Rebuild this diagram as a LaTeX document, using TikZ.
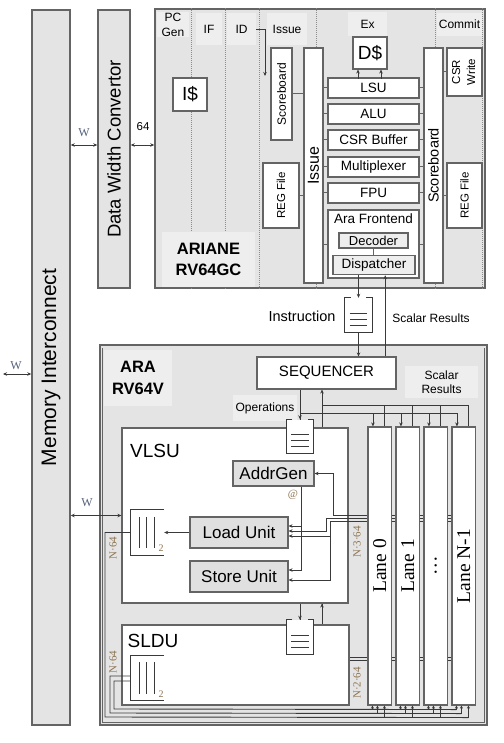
\documentclass[tikz,border=0pt]{standalone}
\usepackage{fontspec}
\usepackage{graphicx}
\setmainfont{Liberation Sans}
\newfontfamily\serifrm{Liberation Serif}
\usetikzlibrary{arrows.meta, calc, positioning}

\definecolor{linegray}{HTML}{646464}
\definecolor{panelgray}{HTML}{E4E4E4}
\definecolor{patchgray}{HTML}{EEEEEE}
\definecolor{unitgray}{HTML}{E0E0E0}
\definecolor{wiregray}{HTML}{3A3A3A}
\definecolor{dotgray}{HTML}{8C8C8C}
\definecolor{wblue}{HTML}{56627C}
\definecolor{ntan}{HTML}{8E7452}

\newcommand{\fsz}[2]{\fontsize{#1}{#2}\selectfont}
\newcommand{\vtext}[1]{\rotatebox{90}{#1}}

\pgfdeclarelayer{back}
\pgfdeclarelayer{wires}
\pgfsetlayers{back,wires,main}

\tikzset{
  wh/.style 2 args={minimum width=#1pt, minimum height=#2pt},
  panel/.style={draw=linegray, fill=panelgray, line width=1.4pt, inner sep=0pt},
  unit/.style={draw=linegray, fill=white, line width=1.1pt, inner sep=0pt, font=\fsz{13.5}{15}},
  gunit/.style={unit, fill=unitgray, font=\fsz{17}{19}},
  tag/.style={fill=patchgray, inner sep=0pt, align=center, font=\fsz{12}{15}},
  stage line/.style={draw=dotgray, densely dotted, line width=1pt},
  conn/.style={draw=linegray, line width=1pt},
  bus/.style={draw=wiregray, line width=0.9pt, >={Stealth[length=4pt,width=3.5pt]}},
  lanetick/.style={bus, >={Stealth[length=3pt,width=3pt]}},
  wlabel/.style={font=\serifrm\fsz{12}{14}, text=wblue, inner sep=0pt},
  nlabel/.style={font=\serifrm\fsz{11}{13}, text=ntan, inner sep=0pt},
  lane/.style={draw=linegray, fill=white, line width=1.1pt, inner sep=0pt, wh={23.5}{278}, font=\serifrm\fsz{19.5}{21}},
  fifobox/.style={fill=white, inner sep=0pt, wh={27}{34}},
  bufbox/.style={fill=white, inner sep=0pt, wh={33}{45}},
}

\begin{document}
\begin{tikzpicture}[x=1pt, y=-1pt]
  \useasboundingbox (0,0) rectangle (503,743);

  % Containers
  \begin{pgfonlayer}{back}
    \node[panel, wh={330}{279}] (ariane) at (320,148.5) {};
    \node[panel, wh={387}{380}] (ara) at (293.5,535) {};
    \draw[conn] ($(ara.north west)+(3.5,3.5)$) -- ($(ara.south west)+(3.5,-3.5)$)
      -- ($(ara.south east)+(-3.5,-3.5)$) -- ($(ara.north east)+(-3.5,3.5)$);
    \foreach \x in {191,225,259,316,435,482}
      \draw[stage line] (ariane.north -| \x,0) -- (ariane.south -| \x,0);
  \end{pgfonlayer}

  % Memory side
  \node[panel, wh={38}{715}, font=\fsz{21}{23}] (mem) at (51,367.5) {\vtext{Memory Interconnect}};
  \node[panel, wh={32}{278}, font=\fsz{18.5}{20}] (dwc) at (114,149) {\vtext{Data Width Convertor}};
  \coordinate (memin) at (3,374);

  % Ariane stages
  \node[tag, wh={32}{25}] (pcgen) at (173,24.5) {PC\\Gen};
  \node[tag, wh={26}{32}] (ifl) at (209,29) {IF};
  \node[tag, wh={29}{32}] (idl) at (241.5,29) {ID};
  \node[tag, wh={40}{32}] (issl) at (287,29) {Issue};
  \node[tag, wh={39}{24}] (exl) at (367.5,24.5) {Ex};
  \node[tag, wh={45}{23}] (comml) at (459.5,24.5) {Commit};
  \node[tag, wh={93}{55}, font=\bfseries\fsz{16.5}{21}] (arianel) at (208.5,259.5) {ARIANE\\RV64GC};
  \coordinate (idtip) at (265,76);

  % Ariane units
  \node[unit, wh={34}{33}, font=\fsz{19}{21}] (icache) at (190,94.5) {I\$};
  \node[unit, wh={21}{92}, font=\fsz{12}{14}] (sbi) at (281.5,94) {\vtext{Scoreboard}};
  \node[unit, wh={36}{65}, font=\fsz{11.5}{13}] (rfi) at (281,195.5) {\vtext{REG File}};
  \node[unit, wh={19}{235}, font=\fsz{16}{18}] (iss) at (313.5,165.5) {\vtext{Issue}};
  \node[unit, wh={34}{32}, font=\fsz{19}{21}] (dcache) at (370,53) {D\$};
  \foreach \n/\lbl/\y in {lsu/LSU/88, alu/ALU/114, csrb/CSR Buffer/140, mux/Multiplexer/167, fpu/FPU/193}
    \node[unit, wh={91}{20}] (\n) at (373.5,\y) {\lbl};
  \node[unit, wh={91}{68}, label={[name=afel, anchor=north, inner sep=0pt, yshift=-4pt, font=\fsz{13.5}{15}]north:Ara Frontend}] (afe) at (373.5,244) {};
  \node[unit, fill=patchgray, line width=1.5pt, wh={69}{15}, font=\fsz{13}{15}] (dec) at (373.5,240.5) {Decoder};
  \node[unit, fill=patchgray, line width=1.5pt, wh={82}{19}, font=\fsz{13.5}{15}] (disp) at (374,265) {Dispatcher};
  \node[unit, wh={19}{235}, font=\fsz{14.5}{16}] (sbc) at (433.5,165.5) {\vtext{Scoreboard}};
  \node[unit, wh={35}{48}, font=\fsz{11.5}{15}] (csrw) at (464.5,72) {\vtext{\begin{tabular}{@{}c@{}}CSR\\Write\end{tabular}}};
  \node[unit, wh={35}{65}, font=\fsz{11.5}{13}] (rfc) at (464.5,195.5) {\vtext{REG File}};

  % Ariane wiring
  \draw[conn] (sbi.east) -- (sbi.east -| iss.west);
  \draw[conn] (rfi.east) -- (rfi.east -| iss.west);
  \foreach \n in {lsu,alu,csrb,mux,fpu,afe} {
    \draw[conn] (iss.east |- \n.west) -- (\n.west);
    \draw[conn] (\n.east) -- (\n.east -| sbc.west);
  }
  \draw[conn] (sbc.east |- csrw.west) -- (csrw.west);
  \draw[conn] (sbc.east |- rfc.west) -- (rfc.west);
  \draw[conn] (dec.south) -- (dec.south |- disp.north);
  \draw[bus,->] (idl.east) -| (idtip);
  \foreach \dx in {-12,11}
    \draw[bus,->] ($(dcache.south)+(\dx,9)$) -- ++(0,-9);

  % Ara
  \node[tag, wh={68}{56}, font=\bfseries\fsz{16.5}{22}] (aral) at (138,377.5) {ARA\\RV64V};
  \node[unit, wh={139}{32}, font=\fsz{15}{17}] (seq) at (326.5,373) {SEQUENCER};
  \node[tag, wh={73}{32}, font=\fsz{12}{14}] (resl) at (441.5,382) {Scalar\\Results};
  \node[tag, wh={64}{26}] (opsl) at (265,408) {Operations};
  \node[fifobox] (ififo) at (358.5,315) {};
  \node[font=\fsz{14.5}{16}, inner sep=0pt] (instl) at (302,316) {Instruction};
  \node[font=\fsz{12}{14}, inner sep=0pt] (sresl) at (431,318) {Scalar Results};
  \coordinate (opsj) at (300,413);
  \coordinate (resj) at (322,405);

  % VLSU
  \node[unit, wh={226}{175}] (vlsu) at (235,515.5) {};
  \node[font=\fsz{19}{21}, inner sep=0pt] (vlsul) at (155,451) {VLSU};
  \node[fifobox] (vfifo) at (300,436.5) {};
  \node[gunit, wh={81}{25}] (agen) at (273.5,473.5) {AddrGen};
  \node[nlabel] (addr) at (293,495) {@};
  \node[gunit, wh={98}{31}] (ldu) at (239,532.5) {Load Unit};
  \node[gunit, wh={98}{31}] (stu) at (239,576.5) {Store Unit};
  \node[bufbox] (vbuf) at (147.5,532.5) {};

  % SLDU
  \node[unit, wh={227}{80}] (sldu) at (235.5,665) {};
  \node[font=\fsz{19}{21}, inner sep=0pt] (sldul) at (153,641) {SLDU};
  \node[fifobox] (sfifo) at (300,637) {};
  \node[bufbox] (sbuf) at (147.5,678) {};

  % Lanes
  \foreach \i/\lbl in {0/Lane 0, 1/Lane 1, 2/\dots, 3/Lane N-1}
    \node[lane] (lane\i) at ({379.75+28*\i},566) {\vtext{\lbl}};

  % Queues
  \foreach \ff in {ififo,vfifo,sfifo} {
    \draw[bus] ($(\ff.north west)+(6,0)$) -- (\ff.north west) -- (\ff.south west)
      -- (\ff.south east) -- (\ff.north east) -- ($(\ff.north east)+(-6,0)$);
    \foreach \fr in {0.45,0.62,0.8}
      \draw[bus] ($(\ff.north west)!\fr!(\ff.south west)+(5,0)$) -- ($(\ff.north east)!\fr!(\ff.south east)+(-5,0)$);
  }
  \foreach \bb in {vbuf,sbuf} {
    \draw[bus] (\bb.north east) -- (\bb.north west) -- (\bb.south west) -- (\bb.south east);
    \foreach \fr in {0.25,0.48,0.7}
      \draw[bus] ($(\bb.north west)!\fr!(\bb.north east)+(0,7)$) -- ($(\bb.south west)!\fr!(\bb.south east)+(0,-7)$);
    \node[nlabel, font=\serifrm\fsz{10}{12}] (\bb-two) at ($(\bb.south east)+(-3,-7)$) {2};
  }

  % Hidden runs
  \begin{pgfonlayer}{wires}
    \draw[bus] (seq.south -| vfifo) -- (sfifo.north);
    \draw[bus] (resj) -- (resj |- sldu.north);
    \foreach \yy in {515,518,521}
      \draw[bus] (lane0.west |- 0,\yy) -- (lane3.east |- 0,\yy);
    \foreach \yy in {657,660}
      \draw[bus] (sldu.east |- 0,\yy) -- (lane3.east |- 0,\yy);
  \end{pgfonlayer}

  % Memory links
  \draw[bus,<->] ($(mem.east |- dwc.west)+(0,-4)$) -- ($(dwc.west)+(0,-4)$);
  \draw[bus,<->] ($(dwc.east)+(0,-4)$) -- ($(dwc.east -| ariane.west)+(0,-4)$);
  \draw[bus,<->] (memin) -- (memin -| mem.west);
  \draw[bus,<->] (mem.east |- vlsu.west) -- (vlsu.west);
  \node[wlabel] (w0) at (16,366) {W};
  \node[wlabel] (w1) at (84,133) {W};
  \node[wlabel] (w2) at (87,503) {W};
  \node[font=\fsz{11.5}{13}, inner sep=0pt] (w64) at (143,127) {64};

  % Instruction and results
  \draw[bus,->] (disp.south -| ififo) -- (ififo.north);
  \draw[bus,->] (ififo.south) -- (seq.north -| ififo);
  \draw[bus,->] ($(seq.north -| ififo.east)+(13,0)$) -- ($(disp.south -| ififo.east)+(13,0)$);

  % Operations and scalar results
  \draw[bus,->] (seq.south -| vfifo) -- (vfifo.north);
  \draw[bus,->] (resj |- vlsu.north) -- (seq.south -| resj);
  \draw[bus,->] (vlsu.south -| sfifo) -- (sfifo.north);
  \draw[bus,->] (resj |- sldu.north) -- (resj |- vlsu.south);
  \foreach \i in {0,...,3} {
    \draw[bus,->] (opsj) -| ($(lane\i.north west)+(5.5,0)$);
    \draw[bus] (resj) -| ($(lane\i.north west)+(17,0)$);
  }

  % VLSU datapath
  \draw[bus,->] (lane0.west |- 0,515) -- (333,515) |- (agen.east);
  \draw[bus,->] (lane0.west |- 0,518) -- (326,518) |- ($(ldu.east)+(0,-1.5)$);
  \draw[bus,->] (lane0.west |- 0,521) -- (330,521) |- ($(stu.east)+(0,3.5)$);
  \draw[bus,->] (330,536) -- (ldu.east |- 0,536);
  \draw[bus,->] (agen.south -| 301,0) |- ($(stu.east)+(0,-6.5)$);
  \draw[bus,->] (301,526) -- (ldu.east |- 0,526);
  \draw[bus,->] (ldu.west) -- (ldu.west -| vbuf.east);

  % Lane feeds
  \draw[bus] (vbuf.west) -| (105,717) -- ($(lane3.south west)+(17,12)$);
  \draw[bus] ($(sbuf.west)+(0,-2)$) -| (110,713) -- ($(lane3.south west)+(10,8)$);
  \draw[bus] ($(sbuf.west)+(0,3)$) -| (114,709) -- ($(lane3.south west)+(5,4)$);
  \foreach \i in {0,...,3}
    \foreach \dx/\dy in {5/4, 10/8, 17/12}
      \draw[lanetick,->] ($(lane\i.south west)+(\dx,\dy)$) -- ($(lane\i.south west)+(\dx,0)$);

  % Widths
  \node[nlabel] (n64v) at (113,548) {\vtext{N·64}};
  \node[nlabel] (n64s) at (113,662) {\vtext{N·64}};
  \node[nlabel] (n364) at (357,542) {\vtext{N·3·64}};
  \node[nlabel] (n264) at (357,683) {\vtext{N·2·64}};
\end{tikzpicture}
\end{document}
